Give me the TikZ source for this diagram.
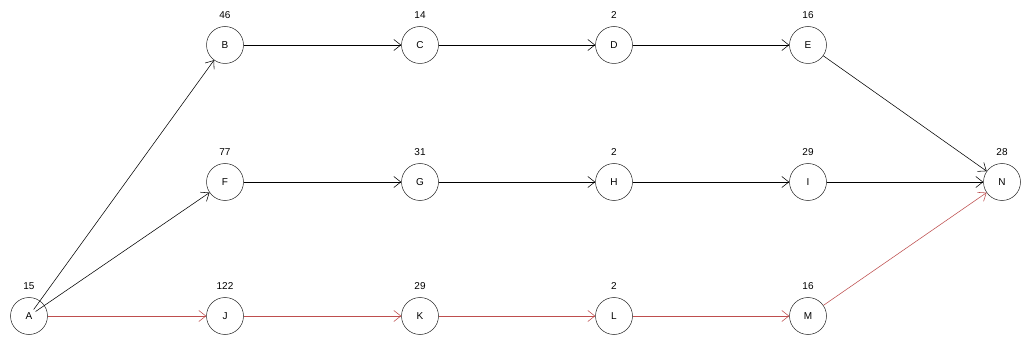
\documentclass[tikz,border=0pt]{standalone}
\usepackage{fontspec}
\setmainfont{Liberation Sans}
\usetikzlibrary{arrows.meta}
\definecolor{critred}{RGB}{190,78,78}
\tikzset{
  vtx/.style={circle, draw=black!85, line width=0.5pt, minimum size=37pt, inner sep=0pt, font=\fontsize{10}{11}\selectfont},
  wt/.style={font=\fontsize{10}{11}\selectfont, inner sep=0pt},
  edge/.style={line width=0.55pt, -{Straight Barb[length=7pt,width=11pt,line width=0.55pt]}},
  crit/.style={edge, draw=critred, -{Straight Barb[length=7pt,width=11pt,line width=0.55pt,color=critred]}}
}
\begin{document}
\begin{tikzpicture}[x=1pt,y=-1pt]
\useasboundingbox[fill=white] (0,0) rectangle (1021,342);
% vertices
\node[vtx] (A) at (29,316) {A};
\node[vtx] (B) at (225,45) {B};
\node[vtx] (C) at (420,45) {C};
\node[vtx] (D) at (614,45) {D};
\node[vtx] (E) at (808,45) {E};
\node[vtx] (F) at (225,182) {F};
\node[vtx] (G) at (420,182) {G};
\node[vtx] (H) at (614,182) {H};
\node[vtx] (I) at (808,182) {I};
\node[vtx] (N) at (1002,182) {N};
\node[vtx] (J) at (225,316) {J};
\node[vtx] (K) at (420,316) {K};
\node[vtx] (L) at (614,316) {L};
\node[vtx] (M) at (808,316) {M};
% durations above each vertex
\foreach \v/\w in {A/15,B/46,C/14,D/2,E/16,F/77,G/31,H/2,I/29,N/28,J/122,K/29,L/2,M/16}
  \node[wt] (w\v) at ([yshift=30pt]\v.center) {\w};
% upper and middle paths
\draw[edge, shorten <=8pt] (A.center) -- (B);
\draw[edge, shorten <=8pt] (A.center) -- (F);
\draw[edge] (B) -- (C);
\draw[edge] (C) -- (D);
\draw[edge] (D) -- (E);
\draw[edge] (E) -- (N);
\draw[edge] (F) -- (G);
\draw[edge] (G) -- (H);
\draw[edge] (H) -- (I);
\draw[edge] (I) -- (N);
% critical path
\draw[crit] (A) -- (J);
\draw[crit] (J) -- (K);
\draw[crit] (K) -- (L);
\draw[crit] (L) -- (M);
\draw[crit] (M) -- (N);
\end{tikzpicture}
\end{document}
